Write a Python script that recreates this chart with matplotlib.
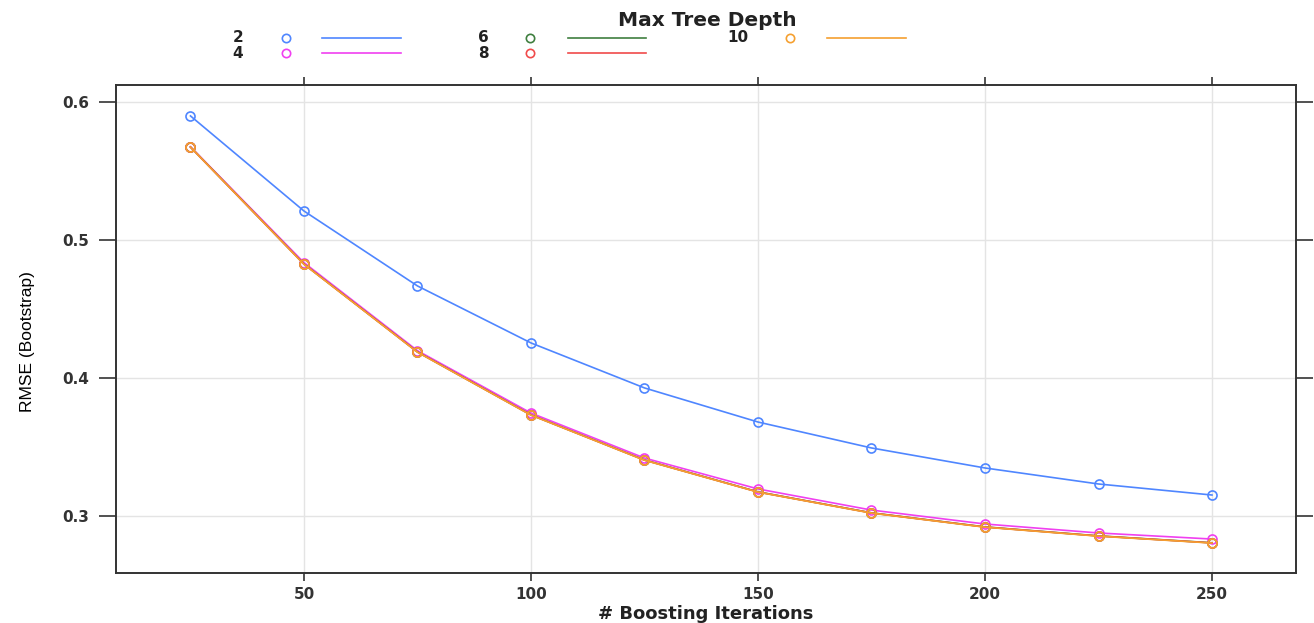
import numpy as np
import matplotlib
matplotlib.use("Agg")
import matplotlib.pyplot as plt
from matplotlib.lines import Line2D

# boosting iterations and RMSE per max tree depth
iters = [25, 50, 75, 100, 125, 150, 175, 200, 225, 250]
depths = ["2", "4", "6", "8", "10"]
rmse_d2 = [0.5899, 0.5210, 0.4667, 0.4254, 0.3928, 0.3681, 0.3493, 0.3348, 0.3232, 0.3152]
rmse_d4 = [0.5676, 0.4836, 0.4198, 0.3746, 0.3420, 0.3196, 0.3043, 0.2942, 0.2877, 0.2833]
rmse_d6 = [0.5674, 0.4826, 0.4189, 0.3733, 0.3406, 0.3175, 0.3023, 0.2921, 0.2856, 0.2806]
rmse_d8 = [0.5673, 0.4825, 0.4188, 0.3732, 0.3405, 0.3174, 0.3022, 0.2920, 0.2855, 0.2805]
rmse_d10 = [0.5673, 0.4824, 0.4187, 0.3731, 0.3404, 0.3173, 0.3021, 0.2919, 0.2854, 0.2804]
series = [rmse_d2, rmse_d4, rmse_d6, rmse_d8, rmse_d10]
colors = ["#4f86ff", "#f040f0", "#3f7f3f", "#f04a4a", "#f5a030"]

plt.rcParams['font.family'] = ['Liberation Sans', 'DejaVu Sans']
wide = ['DejaVu Sans']

W, H = 1314, 623
fig = plt.figure(figsize=(W / 100, H / 100), dpi=100)
ax = fig.add_axes([116 / W, 1 - 573 / H, (1296 - 116) / W, (573 - 85) / H])

for ys, c in zip(series, colors):
    ax.plot(iters, ys, color=c, lw=1.2, marker="o", ms=6.5, mfc="none", mec=c, mew=1.2)

ax.set_xlim(8.6, 268.5)
ax.set_ylim(0.2587, 0.6123)
ax.set_xticks([50, 100, 150, 200, 250])
ax.set_yticks([0.3, 0.4, 0.5, 0.6])
ax.set_yticklabels(["0.3", "0.4", "0.5", "0.6"])
ax.grid(True, color="#e4e4e4", lw=1)
ax.set_axisbelow(True)
for s in ax.spines.values():
    s.set_color("#333333")
    s.set_linewidth(1.4)
ax.tick_params(axis="y", which="both", left=True, right=True, labelright=False,
               direction="out", length=12, width=1.2, color="#333333",
               pad=7, labelcolor="#333333")
ax.tick_params(axis="x", which="both", bottom=True, top=True, labeltop=False,
               direction="out", length=6, width=1.2, color="#333333",
               pad=4, labelcolor="#333333")
for t in ax.get_xticklabels() + ax.get_yticklabels():
    t.set_family(wide)
    t.set_fontweight("bold")
    t.set_fontsize(11)
ax.set_xlabel("# Boosting Iterations", fontsize=13, fontweight="bold",
              family=wide, labelpad=2, color="#222222")
ax.set_ylabel("RMSE (Bootstrap)", fontsize=12.5,
              family=['Liberation Sans Narrow', 'Liberation Sans', 'DejaVu Sans'])
ax.yaxis.set_label_coords(-0.069, 0.475)

# lattice style key on top
def fx(px):
    return px / W

def fy(py):
    return 1 - py / H

fig.text(fx(707), fy(21), "Max Tree Depth", ha="center", va="center",
         fontsize=14.5, fontweight="bold", family=wide, color="#222222")
key_cols = [(243, 286, 322, 401), (489, 530, 568, 646), (748, 790, 827, 906)]
key_rows = [38, 53]
for i, (lab, c) in enumerate(zip(depths, colors)):
    col = key_cols[i // 2]
    row = key_rows[i % 2]
    fig.text(fx(col[0]), fy(row), lab, ha="right", va="center", fontsize=11,
             fontweight="bold", family=wide, color="#222222")
    fig.add_artist(Line2D([fx(col[1])], [fy(row)], transform=fig.transFigure,
                          marker="o", ms=6, mfc="none", mec=c, mew=1.2, ls="none"))
    fig.add_artist(Line2D([fx(col[2]), fx(col[3])], [fy(row), fy(row)],
                          transform=fig.transFigure, color=c, lw=1.2))

fig.savefig("out.png", dpi=100)
